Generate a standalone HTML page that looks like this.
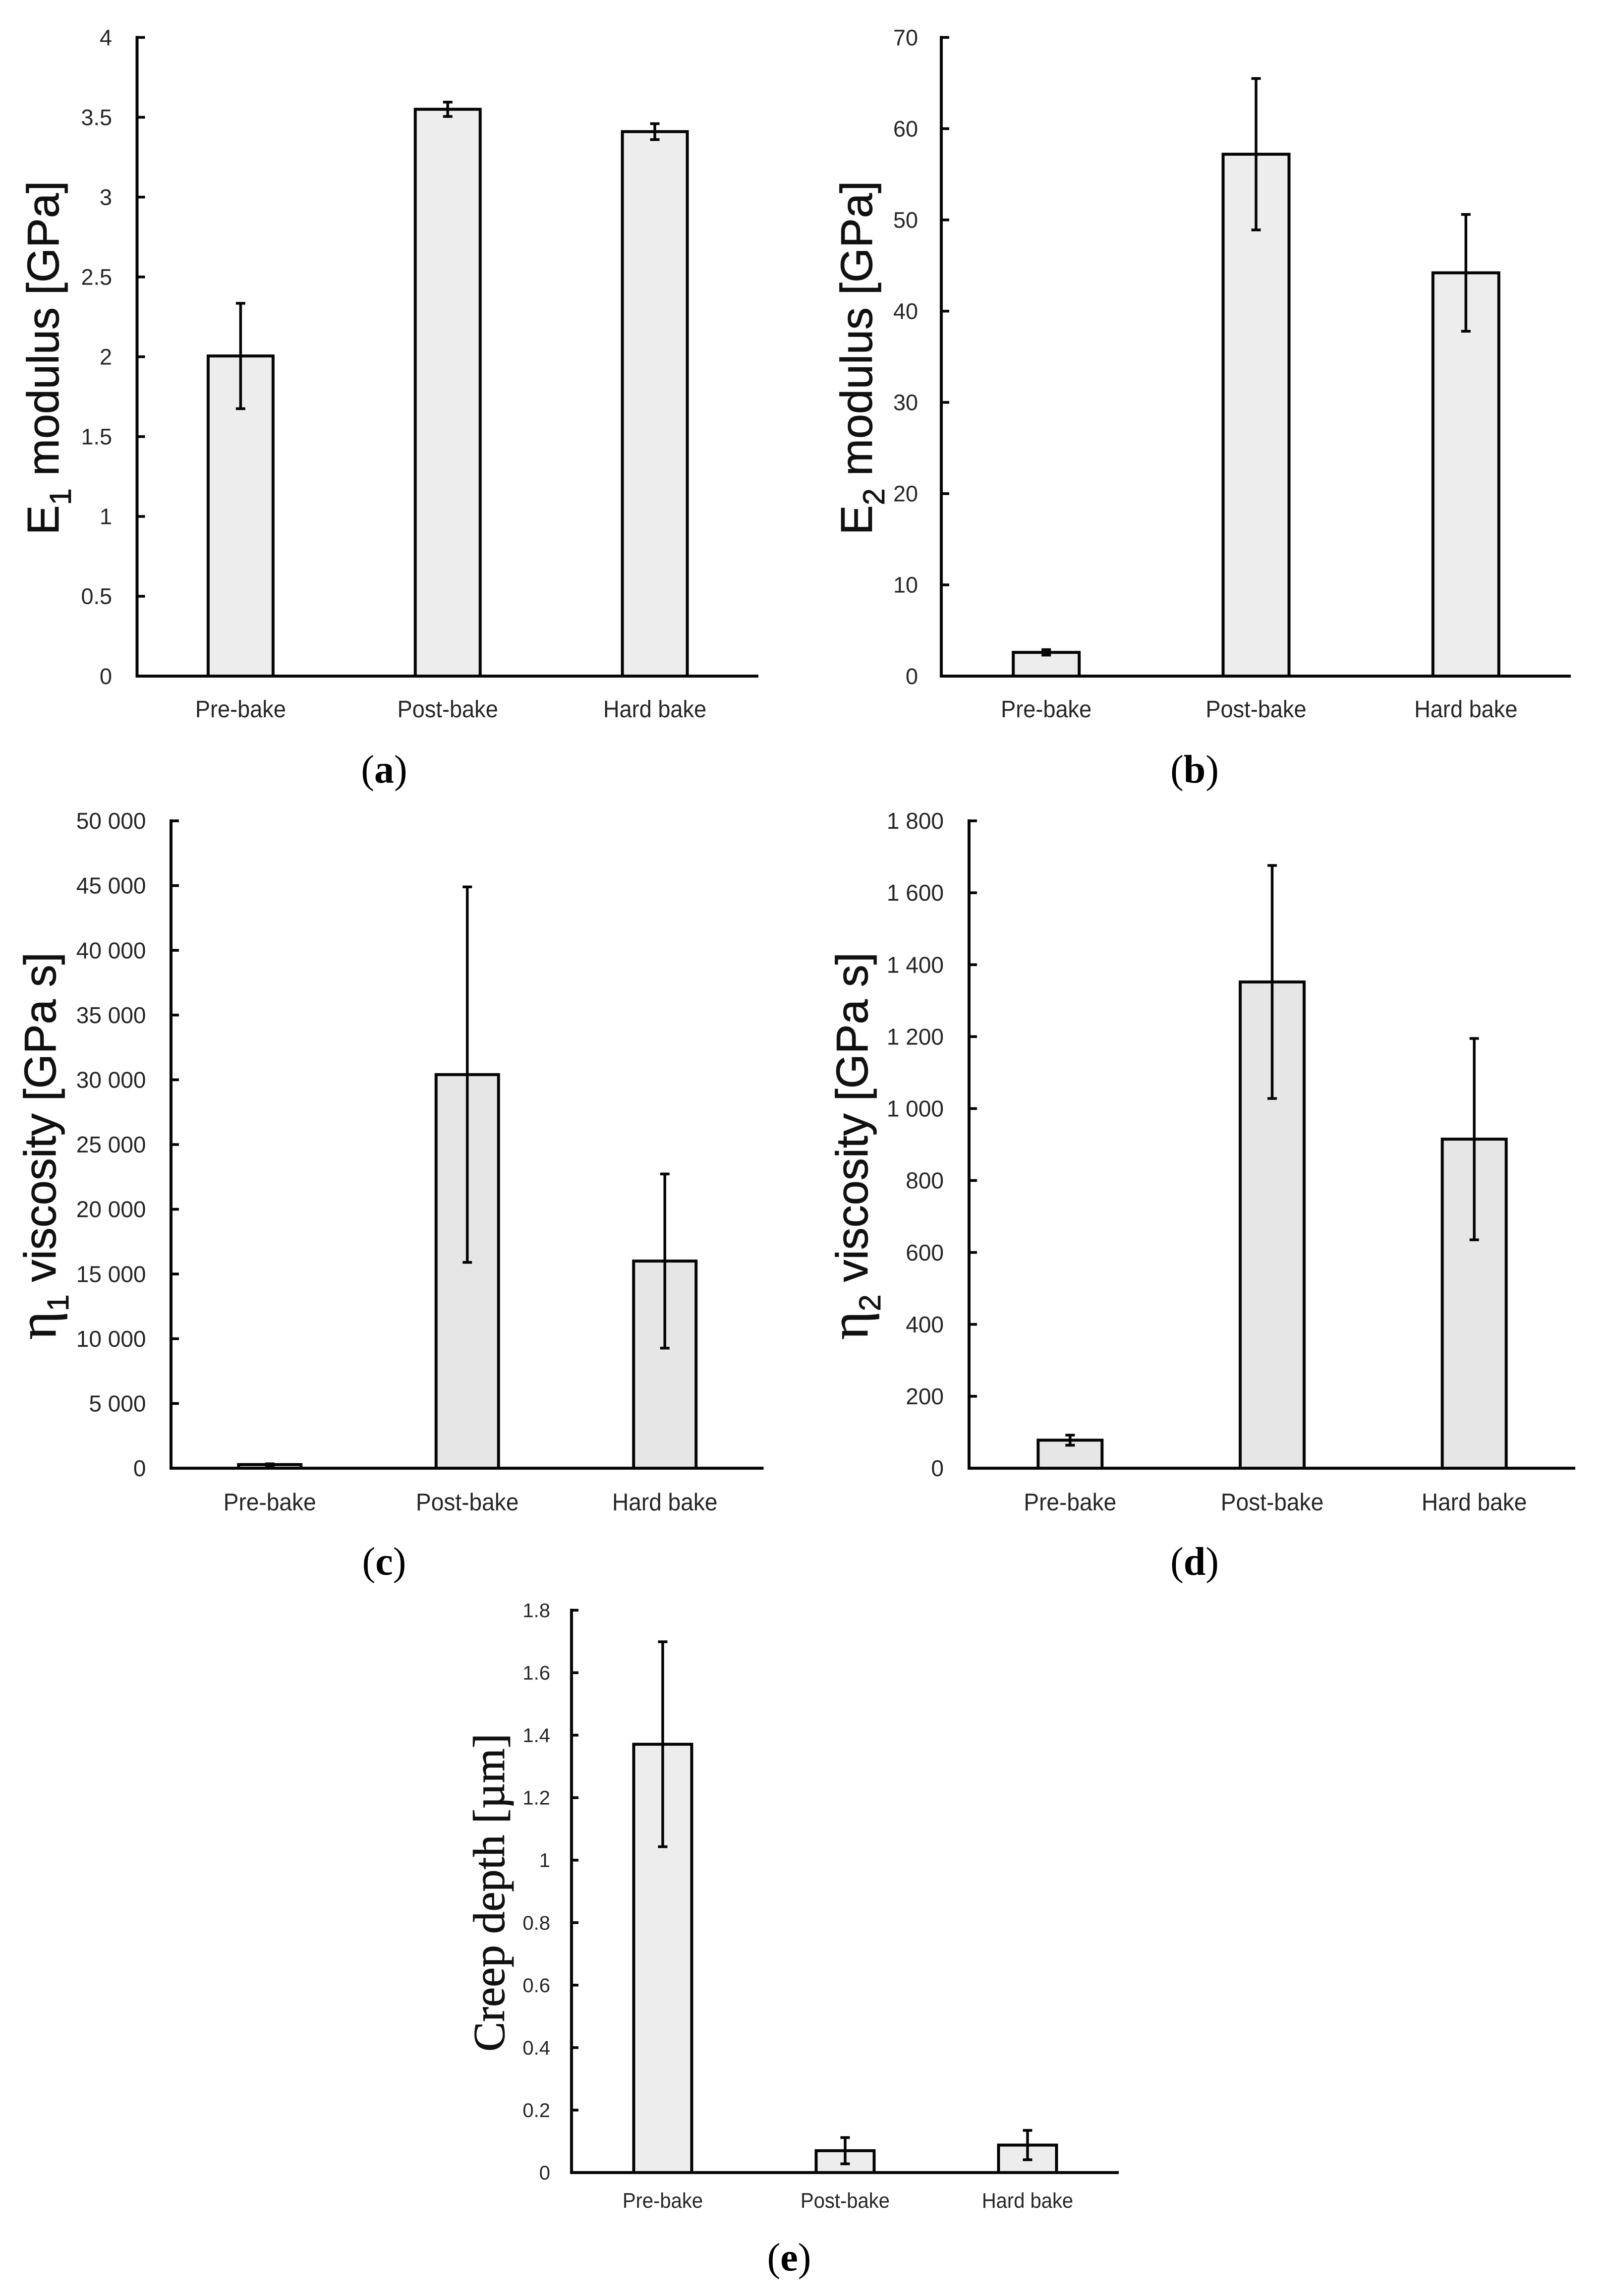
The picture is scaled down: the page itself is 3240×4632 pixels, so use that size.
<!DOCTYPE html>
<html lang="en">
<head>
<meta charset="utf-8">
<title>Mechanical properties by bake stage</title>
<style>
  html, body { margin: 0; padding: 0; background: #fff; }
  body { width: 3240px; height: 4632px; overflow: hidden; }
  svg { display: block; filter: blur(0.7px); }
  text { font-family: "Liberation Sans", Arial, sans-serif; white-space: pre; }
  .axis-title { fill: #111; font-size: 90px; stroke: #111; stroke-width: 0.8px; }
  .serif { font-family: "Liberation Serif", "Times New Roman", serif; }
  .caption { font-family: "Liberation Serif", "Times New Roman", serif; font-size: 80px; fill: #000; text-anchor: middle; }
  .caption tspan { font-weight: bold; }
</style>
</head>
<body>
<svg id="figure" xmlns="http://www.w3.org/2000/svg" width="3240" height="4632" viewBox="0 0 3240 4632">
  <rect x="0" y="0" width="3240" height="4632" fill="#ffffff"/>

  <g id="panel-a">
    <text class="axis-title" text-anchor="middle" transform="translate(118,722) rotate(-90)">E<tspan font-size="61" dy="25">1</tspan><tspan dy="-25"> modulus [GPa]</tspan></text>
    <text class="caption" x="775" y="1579">(<tspan>a</tspan>)</text>
  </g>

  <g id="panel-b">
    <text class="axis-title" text-anchor="middle" transform="translate(1759,722) rotate(-90)">E<tspan font-size="61" dy="25">2</tspan><tspan dy="-25"> modulus [GPa]</tspan></text>
    <text class="caption" x="2410" y="1579">(<tspan>b</tspan>)</text>
  </g>

  <g id="panel-c">
    <text class="axis-title" text-anchor="middle" font-size="91" transform="translate(112,2312) rotate(-90)"><tspan class="serif" font-size="110">η</tspan><tspan font-size="61" dy="26">1</tspan><tspan dy="-26"> viscosity [GPa s]</tspan></text>
    <text class="caption" x="775" y="3177">(<tspan>c</tspan>)</text>
  </g>

  <g id="panel-d">
    <text class="axis-title" text-anchor="middle" font-size="91" transform="translate(1750,2312) rotate(-90)"><tspan class="serif" font-size="110">η</tspan><tspan font-size="61" dy="26">2</tspan><tspan dy="-26"> viscosity [GPa s]</tspan></text>
    <text class="caption" x="2410" y="3177">(<tspan>d</tspan>)</text>
  </g>

  <g id="panel-e">
    <text class="axis-title serif" text-anchor="middle" transform="translate(1017,3818) rotate(-90)">Creep depth [µm]</text>
    <text class="caption" x="1592" y="4581">(<tspan>e</tspan>)</text>
  </g>
</svg>

<script>
// ---- chart data ----
var categories = ["Pre-bake", "Post-bake", "Hard bake"];

var tickLabelsA = ["0", "0.5", "1", "1.5", "2", "2.5", "3", "3.5", "4"];
var valuesA = [2.005, 3.55, 3.41];
var errorsA = [0.33, 0.045, 0.05];

var tickLabelsB = ["0", "10", "20", "30", "40", "50", "60", "70"];
var valuesB = [2.6, 57.2, 44.2];
var errorsB = [0.3, 8.3, 6.4];

var tickLabelsC = ["0", "5 000", "10 000", "15 000", "20 000", "25 000", "30 000", "35 000", "40 000", "45 000", "50 000"];
var valuesC = [280, 30400, 16000];
var errorsC = [60, 14500, 6725];

var tickLabelsD = ["0", "200", "400", "600", "800", "1 000", "1 200", "1 400", "1 600", "1 800"];
var valuesD = [78, 1352, 915];
var errorsD = [14, 324, 280];

var tickLabelsE = ["0", "0.2", "0.4", "0.6", "0.8", "1", "1.2", "1.4", "1.6", "1.8"];
var valuesE = [1.371, 0.07, 0.088];
var errorsE = [0.328, 0.042, 0.047];

// ---- drawing ----
var SVG_NS = "http://www.w3.org/2000/svg";
var INK = "#050505";

function make(parent, tag, attrs, text) {
  var el = document.createElementNS(SVG_NS, tag);
  for (var k in attrs) { el.setAttribute(k, attrs[k]); }
  if (text !== undefined) { el.textContent = text; }
  parent.appendChild(el);
  return el;
}

function tickNumber(label) {
  return parseFloat(label.replace(/ /g, ""));
}

function drawPanel(panelId, tickLabels, values, errors, frame) {
  var root = document.getElementById(panelId);
  var maxValue = tickNumber(tickLabels[tickLabels.length - 1]);

  function yScale(v) {
    return frame.y0 - (v / maxValue) * (frame.y0 - frame.yTop);
  }
  function xScale(i) {
    return frame.x0 + (i + 0.5) * (frame.xEnd - frame.x0) / categories.length;
  }

  values.forEach(function (v, i) {
    var bar = make(root, "rect", {
      x: xScale(i) - frame.barWidth / 2,
      y: yScale(v),
      width: frame.barWidth,
      height: frame.y0 - yScale(v),
      fill: frame.fill,
      stroke: INK,
      "stroke-width": 6
    });
    
    
  });

  values.forEach(function (v, i) {
    var cx = xScale(i);
    var top = yScale(v + errors[i]);
    var bottom = yScale(v - errors[i]);
    var errGroup = make(root, "g", { stroke: INK, "stroke-width": 5.5 });
    
    
    make(errGroup, "line", { x1: cx, x2: cx, y1: top, y2: bottom });
    make(errGroup, "line", { x1: cx - 9.5, x2: cx + 9.5, y1: top, y2: top });
    make(errGroup, "line", { x1: cx - 9.5, x2: cx + 9.5, y1: bottom, y2: bottom });
  });

  var yAxis = make(root, "line", {
    x1: frame.x0, x2: frame.x0, y1: frame.yTop - 3, y2: frame.y0 + 3,
    stroke: INK, "stroke-width": 6
  });
  
  

  var xAxis = make(root, "line", {
    x1: frame.x0 - 3, x2: frame.xEnd, y1: frame.y0, y2: frame.y0,
    stroke: INK, "stroke-width": 6
  });
  
  

  tickLabels.forEach(function (label) {
    var y = yScale(tickNumber(label));
    var tick = make(root, "line", {
      x1: frame.x0, x2: frame.x0 + frame.tickLength, y1: y, y2: y,
      stroke: INK, "stroke-width": 5.5
    });
    
    

    var tickText = make(root, "text", {
      x: frame.labelRight,
      y: y + frame.tickFont * 0.35,
      "text-anchor": "end",
      "font-size": frame.tickFont,
      fill: "#262626"
    }, label);
    
    
  });

  categories.forEach(function (name, i) {
    var catText = make(root, "text", {
      x: xScale(i),
      y: frame.catBaseline,
      "text-anchor": "middle",
      "font-size": frame.catFont,
      "lengthAdjust": "spacingAndGlyphs",
      fill: "#262626"
    }, name);
    catText.setAttribute('textLength', catText.getComputedTextLength() * 0.94);
    
    
  });
}

drawPanel("panel-a", tickLabelsA, valuesA, errorsA, {
  x0: 276.5, xEnd: 1530, y0: 1364, yTop: 75.5, barWidth: 131, fill: "#ededed",
  labelRight: 226, tickFont: 45, catFont: 48, catBaseline: 1447, tickLength: 16
});
drawPanel("panel-b", tickLabelsB, valuesB, errorsB, {
  x0: 1899, xEnd: 3169, y0: 1364, yTop: 75.5, barWidth: 133, fill: "#ededed",
  labelRight: 1852, tickFont: 45, catFont: 48, catBaseline: 1447, tickLength: 16
});
drawPanel("panel-c", tickLabelsC, valuesC, errorsC, {
  x0: 345, xEnd: 1540.5, y0: 2962, yTop: 1656, barWidth: 126, fill: "#e6e6e6",
  labelRight: 294.5, tickFont: 46, catFont: 49, catBaseline: 3047, tickLength: 16
});
drawPanel("panel-d", tickLabelsD, valuesD, errorsD, {
  x0: 1955, xEnd: 3178, y0: 2962, yTop: 1656, barWidth: 129, fill: "#e6e6e6",
  labelRight: 1904, tickFont: 46, catFont: 49, catBaseline: 3047, tickLength: 16
});
drawPanel("panel-e", tickLabelsE, valuesE, errorsE, {
  x0: 1153, xEnd: 2257, y0: 4383, yTop: 3248.5, barWidth: 117, fill: "#ededed",
  labelRight: 1110, tickFont: 40, catFont: 42.5, catBaseline: 4454, tickLength: 14
});
</script>
</body>
</html>
